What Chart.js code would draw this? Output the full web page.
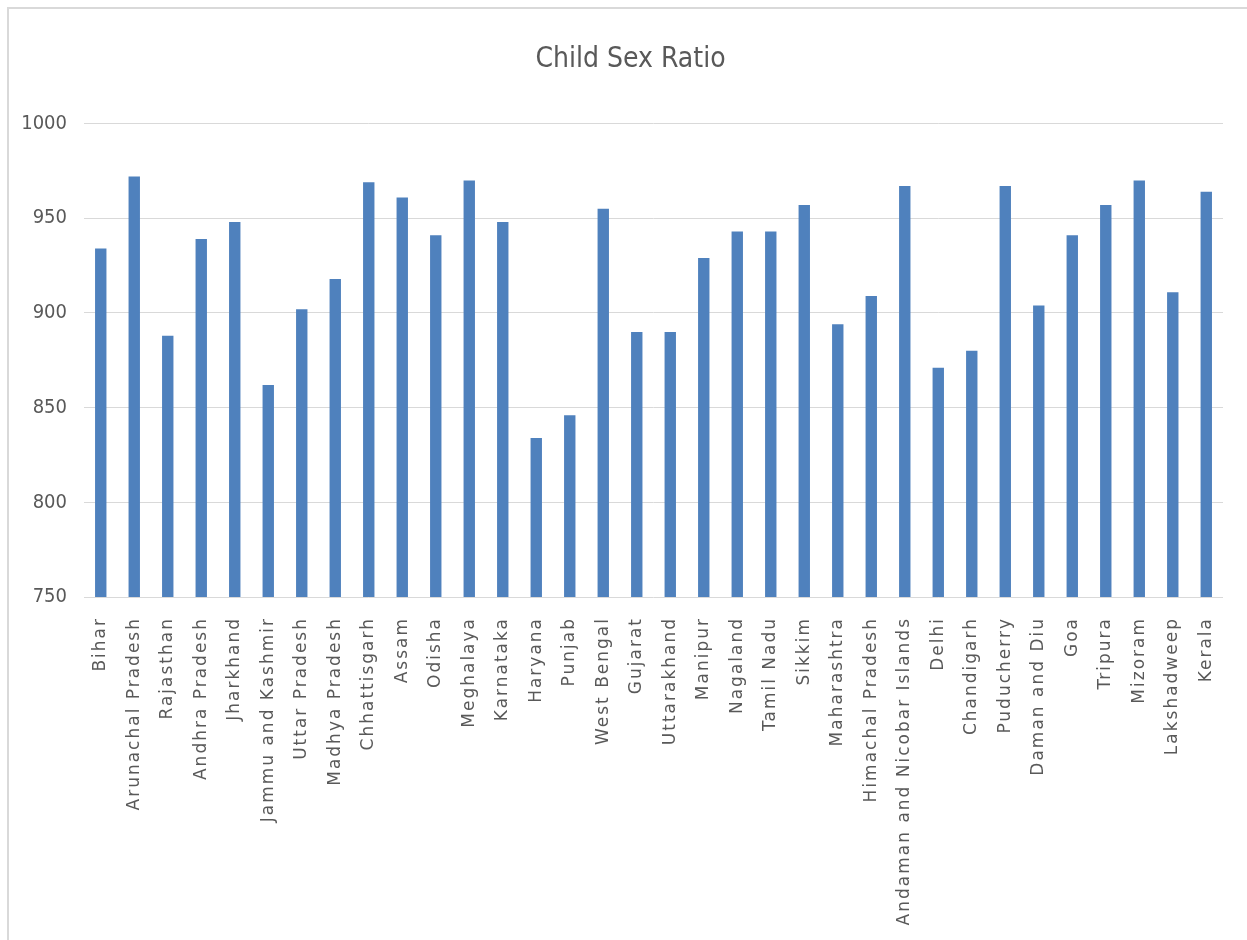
<!DOCTYPE html>
<html>
<head>
<meta charset="utf-8">
<title>Child Sex Ratio</title>
<script src="https://cdn.jsdelivr.net/npm/chart.js@4/dist/chart.umd.min.js"></script>
<style>
    html, body { margin: 0; padding: 0; background: #fff; }
    #wrap { position: relative; width: 1247px; height: 940px; }
    #frame {
        position: absolute; left: 7px; top: 7px; right: 0; bottom: 0;
        border-left: 2px solid #d9d9d9; border-top: 2px solid #d9d9d9;
        pointer-events: none;
    }
</style>
</head>
<body>
<div id="wrap">
    <canvas id="ratioChart" width="1247" height="940"></canvas>
    <div id="frame"></div>
</div>
<script>
// States and union territories, in the order they are plotted
const states = [
    'Bihar', 'Arunachal Pradesh', 'Rajasthan', 'Andhra Pradesh', 'Jharkhand',
    'Jammu and Kashmir', 'Uttar Pradesh', 'Madhya Pradesh', 'Chhattisgarh', 'Assam',
    'Odisha', 'Meghalaya', 'Karnataka', 'Haryana', 'Punjab',
    'West Bengal', 'Gujarat', 'Uttarakhand', 'Manipur', 'Nagaland',
    'Tamil Nadu', 'Sikkim', 'Maharashtra', 'Himachal Pradesh', 'Andaman and Nicobar Islands',
    'Delhi', 'Chandigarh', 'Puducherry', 'Daman and Diu', 'Goa',
    'Tripura', 'Mizoram', 'Lakshadweep', 'Kerala'
];

// Girls per 1000 boys (age 0-6)
const childSexRatio = [
    934, 972, 888, 939, 948,
    862, 902, 918, 969, 961,
    941, 970, 948, 834, 846,
    955, 890, 890, 929, 943,
    943, 957, 894, 909, 967,
    871, 880, 967, 904, 941,
    957, 970, 911, 964
];

const yTicks = [750, 800, 850, 900, 950, 1000];

const TEXT_GREY = '#595959';
const GRID_GREY = '#d9d9d9';
const BAR_BLUE = '#4F81BD';
const NARROW = "'Liberation Sans Narrow', 'DejaVu Sans Condensed', 'Open Sans', sans-serif";

// The category labels are drawn after the bars (ticks.z = 1), so spacing
// set here only touches them.
const spacedLabels = {
    id: 'spacedLabels',
    afterDatasetsDraw(chart) { chart.ctx.letterSpacing = '2px'; },
    afterDraw(chart) { chart.ctx.letterSpacing = '0px'; }
};

// Centre the title a little right of the canvas middle
const titleOffset = {
    id: 'titleOffset',
    afterLayout(chart) {
        const t = chart.titleBlock;
        if (t) {
            t.left += 36;
            t.width -= 36;
            t.right = t.left + t.width;
        }
    }
};

const ctx = document.getElementById('ratioChart').getContext('2d');

new Chart(ctx, {
    type: 'bar',
    data: {
        labels: states,
        datasets: [{
            label: 'Child Sex Ratio',
            data: childSexRatio,
            backgroundColor: BAR_BLUE,
            borderWidth: 0,
            categoryPercentage: 1,
            barPercentage: 0.34
        }]
    },
    plugins: [spacedLabels, titleOffset],
    options: {
        responsive: false,
        animation: false,
        layout: { padding: { left: 0, right: 22, top: 0, bottom: 0 } },
        plugins: {
            legend: { display: false },
            tooltip: { enabled: false },
            title: {
                display: true,
                text: 'Child Sex Ratio',
                color: TEXT_GREY,
                font: { family: NARROW, size: 28, weight: 'normal', lineHeight: 1.2 },
                padding: { top: 43, bottom: 47 }
            }
        },
        scales: {
            x: {
                grid: { display: false, drawTicks: false },
                border: { display: false },
                ticks: {
                    z: 1,
                    autoSkip: false,
                    minRotation: 90,
                    maxRotation: 90,
                    padding: 20,
                    color: TEXT_GREY,
                    font: { family: "'DejaVu Sans', sans-serif", size: 17 }
                },
                afterFit(scale) { scale.height = 343; }
            },
            y: {
                min: 750,
                max: 1000,
                afterBuildTicks(scale) {
                    scale.ticks = yTicks.map(v => ({ value: v }));
                },
                grid: { color: GRID_GREY, lineWidth: 1, drawTicks: false },
                border: { display: false },
                ticks: {
                    padding: 17,
                    color: TEXT_GREY,
                    font: { family: NARROW, size: 20 },
                    callback: (value) => String(value)
                },
                afterFit(scale) { scale.width = 84; }
            }
        }
    }
});
</script>
</body>
</html>
